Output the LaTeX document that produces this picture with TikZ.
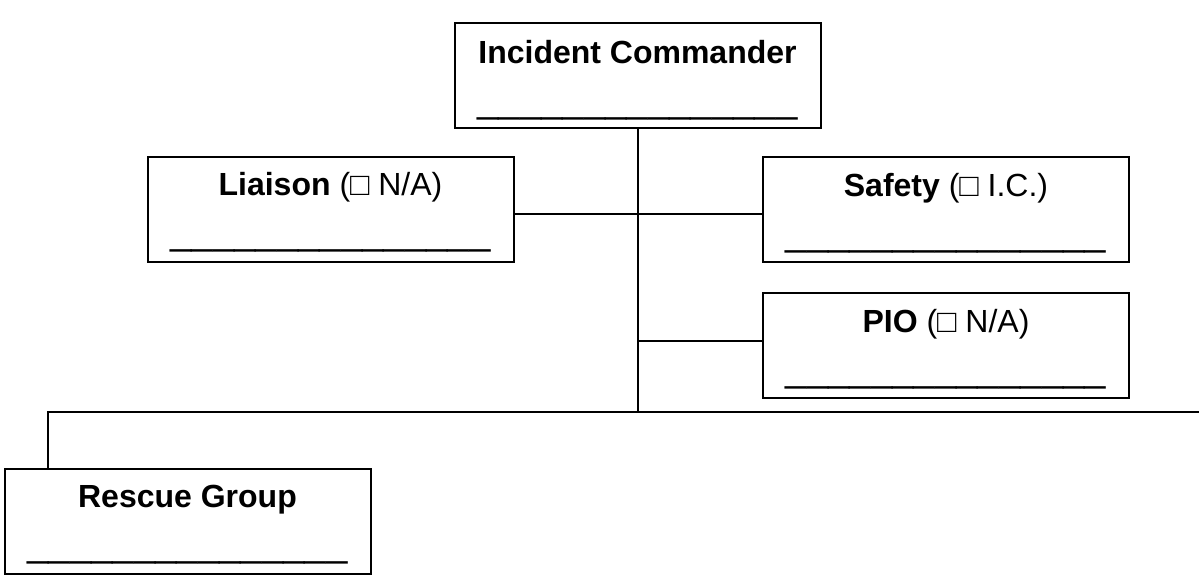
\documentclass[tikz,border=0pt]{standalone}
\usepackage{fontspec}
\setmainfont{Liberation Sans}
\usetikzlibrary{calc}

\newcommand{\blankline}{\_\_\_\_\_\_\_\_\_\_\_\_\_\_\_}

\begin{document}
\begin{tikzpicture}[x=0.5pt,y=-0.5pt]
\tikzstyle{post}=[rectangle,draw,line width=1pt,minimum width=183pt,minimum height=52.5pt,inner sep=0pt]
\tikzstyle{title}=[anchor=base,inner sep=0pt,font=\fontsize{16}{19}\selectfont]
\tikzstyle{blank}=[anchor=base,inner sep=0pt,font=\fontsize{19.2}{22}\selectfont]
\tikzstyle{link}=[line width=1pt]

\useasboundingbox (0,0) rectangle (1199,574);

% boxes
\node[post] (ic) at (637.5,75.5) {} ;
\node[post] (li) at (330.5,209) {} ;
\node[post] (sa) at (946,209.5) {} ;
\node[post] (pio) at (946,345.5) {} ;
\node[post] (rg) at (187.5,521) {} ;

% texts
\node[title] (ict) at ([yshift=-20.5pt]ic.north) {\textbf{Incident Commander}} ;
\node[blank] (icb) at ([yshift=-45pt]ic.north) {\blankline} ;
\node[title] (lit) at ([yshift=-20pt]li.north) {\textbf{Liaison} (□ N/A)} ;
\node[blank] (lib) at ([yshift=-44.5pt]li.north) {\blankline} ;
\node[title] (sat) at ([yshift=-20pt]sa.north) {\textbf{Safety} (□ I.C.)} ;
\node[blank] (sab) at ([yshift=-44.5pt]sa.north) {\blankline} ;
\node[title] (piot) at ([yshift=-20pt]pio.north) {\textbf{PIO} (□ N/A)} ;
\node[blank] (piob) at ([yshift=-44.5pt]pio.north) {\blankline} ;
\node[title] (rgt) at ([yshift=-20pt]rg.north) {\textbf{Rescue Group}} ;
\node[blank] (rgb) at ([yshift=-44.5pt]rg.north) {\blankline} ;

% links
\coordinate (staff) at (637.5,214) ;
\coordinate (pioj) at (637.5,341) ;
\coordinate (bus) at (637.5,412) ;
\coordinate (busl) at (48,412) ;
\coordinate (busr) at (1199,412) ;

\draw[link] (ic.south) -- (bus) ;
\draw[link] (li.east |- staff) -- (sa.west |- staff) ;
\draw[link] (pioj) -- (pio.west |- pioj) ;
\draw[link] (busr) -- (busl) -- (busl |- rg.north) ;

\end{tikzpicture}
\end{document}
